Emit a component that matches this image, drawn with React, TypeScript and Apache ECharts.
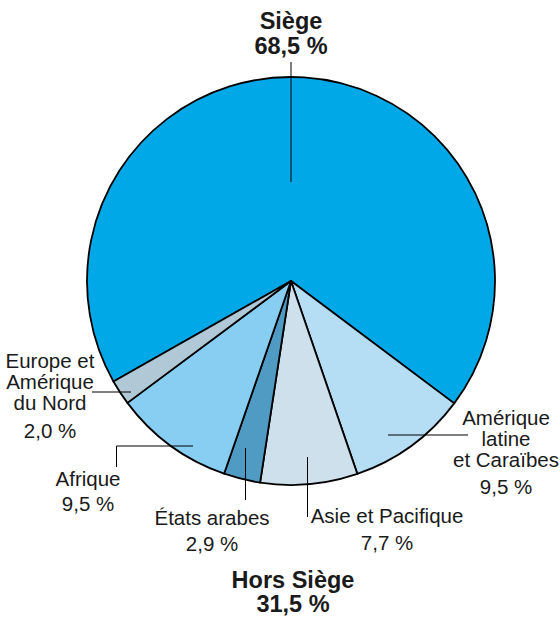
import React, { useEffect, useRef } from "react";
import * as echarts from "echarts";

// ---- data ----
const categories = [
  "Siège",
  "Amérique latine et Caraïbes",
  "Asie et Pacifique",
  "États arabes",
  "Afrique",
  "Europe et Amérique du Nord",
];
const values = [68.5, 9.5, 7.7, 2.9, 9.5, 2.0];
const labelTexts = [
  ["Siège"],
  ["Amérique", "latine", "et Caraïbes"],
  ["Asie et Pacifique"],
  ["États arabes"],
  ["Afrique"],
  ["Europe et", "Amérique", "du Nord"],
];
const horsSiegeLabel = "Hors Siège";
const horsSiegeValue = 31.5;

// ---- style / layout ----
const colors = ["#00a8e8", "#b5def5", "#cde0ec", "#4f9bc3", "#88cdf2", "#b1c8d6"];
const FONT = "'Liberation Sans', Arial, sans-serif";
const CENTER = [291, 281];
const RADIUS = 204;
const NORMAL_SIZE = 20.5;
const BOLD_SIZE = 23.5;

// per label: center x, center y of the name block, line height, y of percent line, bold
const labelLayout = [
  { x: 291, y: 21, lh: 25, py: 46, bold: true },
  { x: 506, y: 438, lh: 21, py: 486, bold: false },
  { x: 387, y: 515, lh: 21, py: 542, bold: false },
  { x: 212, y: 517, lh: 21, py: 543, bold: false },
  { x: 88, y: 478, lh: 21, py: 503, bold: false },
  { x: 50, y: 381, lh: 21, py: 430, bold: false },
];
const leaderLines: number[][][] = [
  [[291, 62], [291, 182]],
  [[388, 435], [468, 435]],
  [[307.5, 457], [307.5, 517]],
  [[245.5, 448], [245.5, 500]],
  [[193, 446], [116.5, 446], [116.5, 467]],
  [[92, 392], [131, 392]],
];

const fmt = (v: number) => v.toFixed(1).replace(".", ",") + " %";

function textEl(text: string, x: number, y: number, bold: boolean, lh: number) {
  return {
    type: "text",
    x,
    y,
    silent: true,
    style: {
      text,
      fill: "#1a1a1a",
      fontFamily: FONT,
      fontSize: bold ? BOLD_SIZE : NORMAL_SIZE,
      fontWeight: bold ? "bold" : "normal",
      lineHeight: lh,
      align: "center",
      verticalAlign: "middle",
      textAlign: "center",
      textVerticalAlign: "middle",
    },
  };
}

export default function App() {
  const ref = useRef<HTMLDivElement>(null);
  useEffect(() => {
    document.body.style.margin = "0";
    if (!ref.current) return;
    const chart = echarts.init(ref.current, undefined, { renderer: "svg" });

    const graphics: any[] = [];
    leaderLines.forEach((pts) => {
      graphics.push({
        type: "polyline",
        silent: true,
        shape: { points: pts },
        style: { stroke: "#000", lineWidth: 1, fill: null },
        z: 10,
      });
    });
    categories.forEach((_, i) => {
      const L = labelLayout[i];
      if (L.bold) {
        graphics.push(
          textEl(labelTexts[i].join("\n") + "\n" + fmt(values[i]), L.x, (L.y + L.py) / 2, true, L.lh)
        );
      } else {
        graphics.push(textEl(labelTexts[i].join("\n"), L.x, L.y, false, L.lh));
        graphics.push(textEl(fmt(values[i]), L.x, L.py, false, L.lh));
      }
    });
    graphics.push(textEl(horsSiegeLabel + "\n" + fmt(horsSiegeValue), 293, 592, true, 24));

    chart.setOption({
      animation: false,
      backgroundColor: "#fff",
      series: [
        {
          type: "pie",
          center: CENTER,
          radius: RADIUS,
          startAngle: 209.5,
          clockwise: true,
          label: { show: false },
          labelLine: { show: false },
          emphasis: { disabled: true },
          itemStyle: { borderColor: "#000", borderWidth: 1.8 },
          data: categories.map((name, i) => ({
            name,
            value: values[i],
            itemStyle: { color: colors[i] },
          })),
        },
      ],
      graphic: graphics,
    });
    return () => chart.dispose();
  }, []);
  return <div ref={ref} style={{ width: 560, height: 621 }} />;
}
